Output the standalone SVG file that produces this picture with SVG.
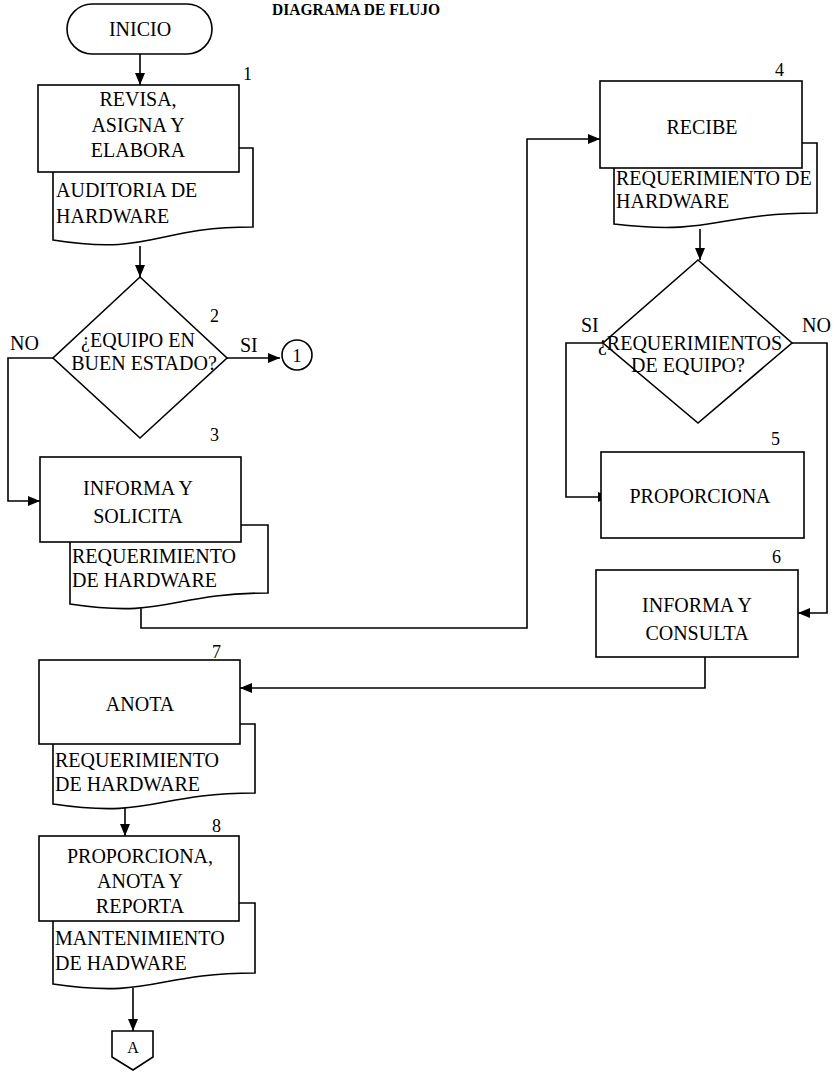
<svg xmlns="http://www.w3.org/2000/svg" width="835" height="1072" viewBox="0 0 835 1072">
  <style>
    .shape { fill: #ffffff; stroke: #000000; stroke-width: 1.6; }
    .line { fill: none; stroke: #000000; stroke-width: 1.6; }
    .t { font-family: "Liberation Serif", "Times New Roman", serif; font-size: 20px; fill: #000000; }
    .c { text-anchor: middle; }
    .num { font-family: "Liberation Serif", "Times New Roman", serif; font-size: 18px; fill: #000000; }
    .title { font-family: "Liberation Serif", "Times New Roman", serif; font-size: 17.5px; font-weight: bold; fill: #000000; }
  </style>
  <defs>
    <marker id="arrow" viewBox="0 0 12 10" refX="12" refY="5" markerWidth="12" markerHeight="10" markerUnits="userSpaceOnUse" orient="auto">
      <path d="M0,0 L12,5 L0,10 z" fill="#000000"/>
    </marker>
  </defs>

  <text class="title" x="272" y="15" textLength="168" lengthAdjust="spacingAndGlyphs">DIAGRAMA DE FLUJO</text>

  <!-- connectors -->
  <g id="connectors">
    <path class="line" d="M140,54 V85" marker-end="url(#arrow)"/>
    <path class="line" d="M140,246 V277" marker-end="url(#arrow)"/>
    <path class="line" d="M227,358 H280" marker-end="url(#arrow)"/>
    <path class="line" d="M53,358 H8 V501 H40" marker-end="url(#arrow)"/>
    <path class="line" d="M141,607 V628 H527 V139 H600" marker-end="url(#arrow)"/>
    <path class="line" d="M700,229 V260" marker-end="url(#arrow)"/>
    <path class="line" d="M603,343 H566 V497 H610" marker-end="url(#arrow)"/>
    <path class="line" d="M792,343 H827 V613 H798" marker-end="url(#arrow)"/>
    <path class="line" d="M705,657 V688 H240" marker-end="url(#arrow)"/>
    <path class="line" d="M125,808 V836" marker-end="url(#arrow)"/>
    <path class="line" d="M133,988 V1031" marker-end="url(#arrow)"/>
  </g>

  <!-- start -->
  <g id="inicio">
    <rect class="shape" x="67" y="4" width="145" height="50" rx="25" ry="25"/>
    <text class="t c" x="140" y="36">INICIO</text>
  </g>

  <!-- step 1 -->
  <g id="doc1">
    <path class="shape" d="M53,148 H253 V227 C153,227 153,256 53,240 Z"/>
    <text class="t" x="56" y="197">AUDITORIA DE</text>
    <text class="t" x="56" y="223">HARDWARE</text>
  </g>
  <g id="paso1">
    <rect class="shape" x="38" y="85" width="201" height="87"/>
    <text class="t c" x="138" y="106">REVISA,</text>
    <text class="t c" x="138" y="132">ASIGNA Y</text>
    <text class="t c" x="138" y="157">ELABORA</text>
    <text class="num" x="243" y="80">1</text>
  </g>

  <!-- decision 2 -->
  <g id="decision2">
    <polygon class="shape" points="140,277 227,358 140,438 53,358"/>
    <text class="t c" x="138" y="347">¿EQUIPO EN</text>
    <text class="t c" x="144" y="370">BUEN ESTADO?</text>
    <text class="num" x="210" y="322">2</text>
    <text class="t" x="10" y="350">NO</text>
    <text class="t" x="240" y="352">SI</text>
  </g>
  <g id="conector1">
    <circle class="shape" cx="297" cy="355" r="15"/>
    <text class="t c" x="297" y="362" style="font-size:18px">1</text>
  </g>

  <!-- step 3 -->
  <g id="doc3">
    <path class="shape" d="M70,525 H268 V593 C169,593 169,619 70,604 Z"/>
    <text class="t" x="72" y="563">REQUERIMIENTO</text>
    <text class="t" x="72" y="587">DE HARDWARE</text>
  </g>
  <g id="paso3">
    <rect class="shape" x="40" y="457" width="201" height="85"/>
    <text class="t c" x="138" y="495">INFORMA Y</text>
    <text class="t c" x="138" y="523">SOLICITA</text>
    <text class="num" x="210" y="441">3</text>
  </g>

  <!-- step 4 -->
  <g id="doc4">
    <path class="shape" d="M614,143 H817 V213 C715,213 715,236 614,224 Z"/>
    <text class="t" x="616" y="185">REQUERIMIENTO DE</text>
    <text class="t" x="616" y="208">HARDWARE</text>
  </g>
  <g id="paso4">
    <rect class="shape" x="600" y="81" width="202" height="87"/>
    <text class="t c" x="702" y="134">RECIBE</text>
    <text class="num" x="775" y="76">4</text>
  </g>

  <!-- decision: requerimientos de equipo -->
  <g id="decision4">
    <polygon class="shape" points="698,260 792,343 698,423 603,343"/>
    <text class="t c" x="690" y="350">¿REQUERIMIENTOS</text>
    <text class="t c" x="688" y="372">DE EQUIPO?</text>
    <text class="t" x="581" y="332">SI</text>
    <text class="t" x="802" y="332">NO</text>
  </g>

  <!-- step 5 -->
  <g id="paso5">
    <rect class="shape" x="601" y="452" width="203" height="86"/>
    <text class="t c" x="700" y="503">PROPORCIONA</text>
    <text class="num" x="771" y="445">5</text>
  </g>

  <!-- step 6 -->
  <g id="paso6">
    <rect class="shape" x="596" y="570" width="202" height="87"/>
    <text class="t c" x="697" y="612">INFORMA Y</text>
    <text class="t c" x="697" y="640">CONSULTA</text>
    <text class="num" x="772" y="563">6</text>
  </g>

  <!-- step 7 -->
  <g id="doc7">
    <path class="shape" d="M53,724 H255 V793 C154,793 154,819 53,804 Z"/>
    <text class="t" x="55" y="767">REQUERIMIENTO</text>
    <text class="t" x="55" y="791">DE HARDWARE</text>
  </g>
  <g id="paso7">
    <rect class="shape" x="39" y="660" width="201" height="84"/>
    <text class="t c" x="140" y="711">ANOTA</text>
    <text class="num" x="212" y="658">7</text>
  </g>

  <!-- step 8 -->
  <g id="doc8">
    <path class="shape" d="M53,903 H255 V973 C154,973 154,999 53,984 Z"/>
    <text class="t" x="55" y="945">MANTENIMIENTO</text>
    <text class="t" x="55" y="970">DE HADWARE</text>
  </g>
  <g id="paso8">
    <rect class="shape" x="39" y="836" width="200" height="85"/>
    <text class="t c" x="140" y="863">PROPORCIONA,</text>
    <text class="t c" x="140" y="888">ANOTA Y</text>
    <text class="t c" x="140" y="913">REPORTA</text>
    <text class="num" x="212" y="832">8</text>
  </g>

  <!-- off-page connector -->
  <g id="conectorA">
    <path class="shape" d="M112,1031 H153 V1057 L133,1070 L112,1057 Z"/>
    <text class="t c" x="133" y="1053" style="font-size:16px">A</text>
  </g>
</svg>
